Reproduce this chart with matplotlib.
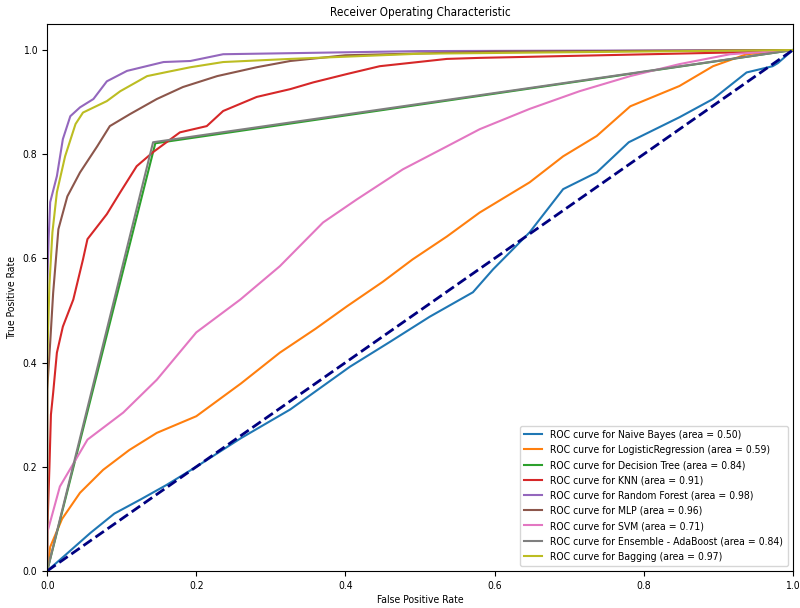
import matplotlib
matplotlib.use("Agg")
import matplotlib.pyplot as plt

plt.rcParams['font.family'] = ['DejaVu Sans']
plt.rcParams['font.stretch'] = 'condensed'

# ROC points (fpr, tpr)
nb_fpr = [0, 0.02, 0.058, 0.09, 0.125, 0.16, 0.2, 0.26, 0.326, 0.406, 0.46, 0.513, 0.571, 0.598,
          0.647, 0.692, 0.737, 0.78, 0.848, 0.893, 0.938, 0.973, 0.98, 1.0]
nb_tpr = [0, 0.025, 0.073, 0.11, 0.137, 0.165, 0.2, 0.255, 0.31, 0.392, 0.44, 0.488, 0.535, 0.579,
          0.65, 0.733, 0.765, 0.823, 0.871, 0.906, 0.957, 0.969, 0.975, 1.0]

lr_fpr = [0, 0.004, 0.02, 0.044, 0.075, 0.11, 0.147, 0.2, 0.26, 0.312, 0.36, 0.402, 0.45, 0.49,
          0.536, 0.58, 0.647, 0.692, 0.737, 0.782, 0.848, 0.893, 0.938, 1.0]
lr_tpr = [0, 0.046, 0.1, 0.15, 0.194, 0.232, 0.265, 0.297, 0.36, 0.419, 0.465, 0.508, 0.555, 0.598,
          0.642, 0.688, 0.746, 0.796, 0.835, 0.892, 0.931, 0.969, 0.992, 1.0]

dt_fpr = [0, 0.145, 1.0]
dt_tpr = [0, 0.821, 1.0]

knn_fpr = [0, 0, 0.003, 0.005, 0.008, 0.013, 0.021, 0.035, 0.048, 0.054, 0.08, 0.098, 0.12, 0.142,
           0.178, 0.214, 0.236, 0.281, 0.326, 0.357, 0.402, 0.446, 0.536, 0.58, 0.938, 1.0]
knn_tpr = [0, 0.07, 0.2, 0.3, 0.342, 0.419, 0.469, 0.521, 0.598, 0.637, 0.685, 0.727, 0.777, 0.804,
           0.842, 0.854, 0.883, 0.91, 0.925, 0.938, 0.954, 0.969, 0.983, 0.985, 0.996, 1.0]

rf_fpr = [0, 0, 0.002, 0.004, 0.013, 0.021, 0.031, 0.044, 0.062, 0.08, 0.107, 0.156, 0.192, 0.236,
          0.326, 0.5, 1.0]
rf_tpr = [0, 0.55, 0.64, 0.708, 0.758, 0.829, 0.873, 0.89, 0.906, 0.94, 0.96, 0.977, 0.979, 0.992,
          0.994, 0.998, 1.0]

mlp_fpr = [0, 0, 0.004, 0.008, 0.015, 0.027, 0.044, 0.067, 0.084, 0.111, 0.147, 0.182, 0.228, 0.281,
           0.326, 0.4, 0.6, 1.0]
mlp_tpr = [0, 0.348, 0.438, 0.534, 0.656, 0.719, 0.765, 0.815, 0.854, 0.877, 0.906, 0.929, 0.95, 0.967,
           0.979, 0.99, 0.997, 1.0]

svm_fpr = [0, 0, 0.017, 0.054, 0.102, 0.147, 0.2, 0.259, 0.312, 0.37, 0.415, 0.477, 0.536, 0.58,
           0.647, 0.714, 0.782, 0.848, 0.916, 1.0]
svm_tpr = [0, 0.073, 0.162, 0.252, 0.304, 0.367, 0.458, 0.521, 0.585, 0.669, 0.713, 0.771, 0.815, 0.848,
           0.887, 0.921, 0.95, 0.973, 0.992, 1.0]

ada_fpr = [0, 0.142, 1.0]
ada_tpr = [0, 0.823, 1.0]

bag_fpr = [0, 0, 0.003, 0.007, 0.013, 0.024, 0.038, 0.048, 0.08, 0.098, 0.134, 0.161, 0.192, 0.236,
           0.326, 0.5, 1.0]
bag_tpr = [0, 0.4, 0.55, 0.65, 0.727, 0.796, 0.858, 0.88, 0.902, 0.921, 0.95, 0.958, 0.967, 0.977,
           0.983, 0.993, 1.0]

names = ["Naive Bayes", "LogisticRegression", "Decision Tree", "KNN", "Random Forest",
         "MLP", "SVM", "Ensemble - AdaBoost", "Bagging"]
areas = [0.50, 0.59, 0.84, 0.91, 0.98, 0.96, 0.71, 0.84, 0.97]
curves = [(nb_fpr, nb_tpr), (lr_fpr, lr_tpr), (dt_fpr, dt_tpr), (knn_fpr, knn_tpr),
          (rf_fpr, rf_tpr), (mlp_fpr, mlp_tpr), (svm_fpr, svm_tpr), (ada_fpr, ada_tpr),
          (bag_fpr, bag_tpr)]

fig = plt.figure(figsize=(8, 6.08), dpi=100)
ax = fig.add_axes([0.059, 0.061, 0.932, 0.8995])

for name, area, (fpr, tpr) in zip(names, areas, curves):
    ax.plot(fpr, tpr, lw=1.5, label="ROC curve for %s (area = %0.2f)" % (name, area))

ax.plot([0, 1], [0, 1], color="navy", lw=2, linestyle="--")
ax.set_xlim(0.0, 1.0)
ax.set_ylim(0.0, 1.05)
ax.set_xlabel("False Positive Rate", fontsize=7.5, labelpad=3)
ax.set_ylabel("True Positive Rate", fontsize=7.5)
ax.set_title("Receiver Operating Characteristic", fontsize=8.5, pad=6)
ax.tick_params(labelsize=7.5)
ax.legend(loc="lower right", fontsize=7.5, handlelength=1.7)

fig.savefig("out.png", dpi=100)
